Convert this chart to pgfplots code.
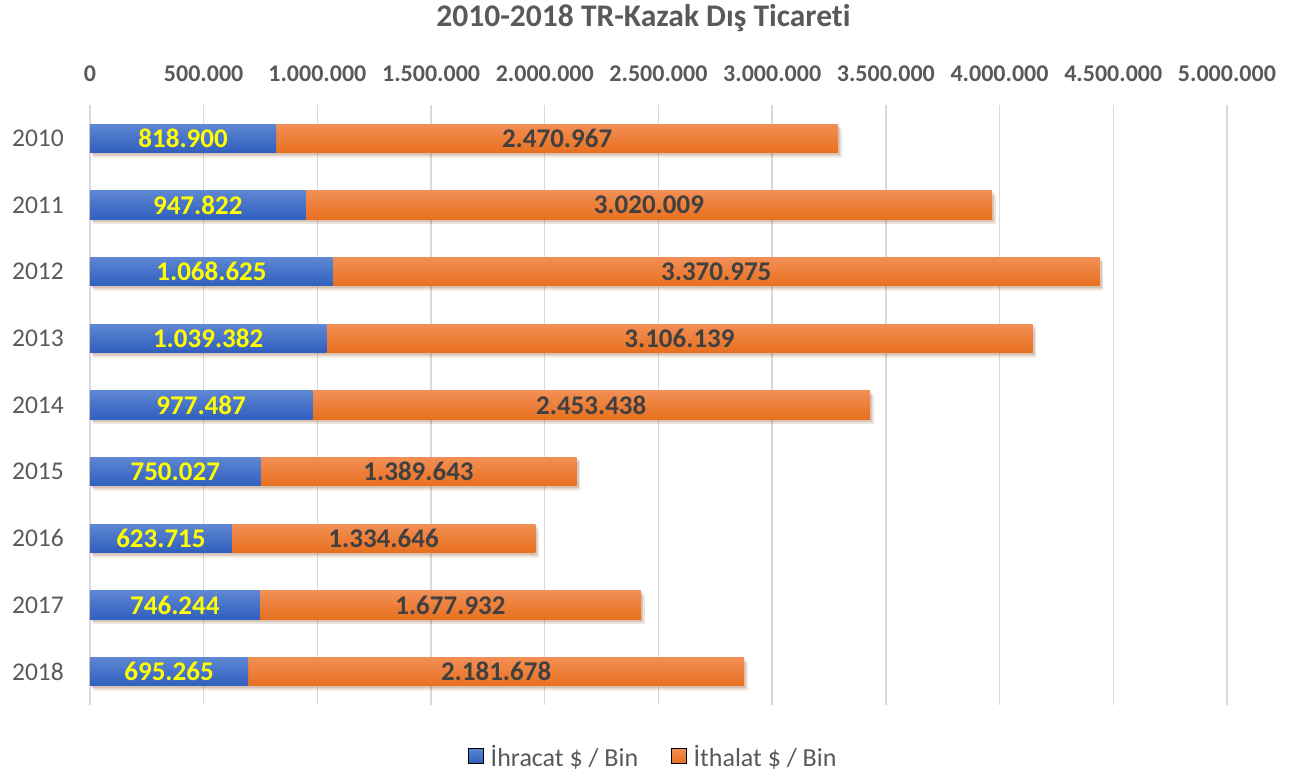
\documentclass[border=0pt]{standalone}
\usepackage{fontspec}
\setmainfont{Carlito}[Ligatures=NoCommon]
\usepackage{pgfplots}
\pgfplotsset{compat=1.18}
\usepackage{pgfplotstable}
\definecolor{txtgray}{HTML}{595959}
\definecolor{lbldark}{HTML}{404040}
\definecolor{gridgray}{HTML}{D9D9D9}
\definecolor{bltop}{HTML}{5E87D3}
\definecolor{blbot}{HTML}{2F5EBD}
\definecolor{ortop}{HTML}{F28F55}
\definecolor{orbot}{HTML}{E8701F}
\definecolor{lblyellow}{HTML}{FFFF00}
\pgfplotstableread{
y e i le li
8 818900 2470967 818.900 2.470.967
7 947822 3020009 947.822 3.020.009
6 1068625 3370975 1.068.625 3.370.975
5 1039382 3106139 1.039.382 3.106.139
4 977487 2453438 977.487 2.453.438
3 750027 1389643 750.027 1.389.643
2 623715 1334646 623.715 1.334.646
1 746244 1677932 746.244 1.677.932
0 695265 2181678 695.265 2.181.678
}\data
\begin{document}
\begin{tikzpicture}
\useasboundingbox (-90pt,-66pt) rectangle (1216pt,705pt);
\begin{axis}[
  at={(0pt,0pt)}, anchor=south west,
  scale only axis, width=1137pt, height=600pt,
  xmin=0, xmax=5000000, ymin=-0.5, ymax=8.5,
  scaled x ticks=false,
  clip=false,
  axis line style={draw=none},
  major tick length=0pt,
  xmajorgrids, ymajorgrids=false,
  grid style={draw=gridgray, line width=1.4pt},
  xtick={0,500000,1000000,1500000,2000000,2500000,3000000,3500000,4000000,4500000,5000000},
  xticklabels={0,500.000,1.000.000,1.500.000,2.000.000,2.500.000,3.000.000,3.500.000,4.000.000,4.500.000,5.000.000},
  xticklabel pos=right,
  xticklabel style={font=\fontsize{24}{28}\selectfont\bfseries, text=txtgray, inner sep=0pt, anchor=south, yshift=23pt},
  ytick={0,1,2,3,4,5,6,7,8},
  yticklabels={2018,2017,2016,2015,2014,2013,2012,2011,2010},
  yticklabel style={font=\fontsize{25.5}{28}\selectfont, text=txtgray, inner sep=0pt, anchor=east, xshift=-26pt},
  legend columns=2,
  legend style={at={(0.4947,-0.0867)}, anchor=center, draw=none, fill=none, inner sep=0pt,
    font=\fontsize{26}{30}\selectfont, text=txtgray,
    nodes={inner sep=0pt},
    /tikz/every odd column/.append style={column sep=7pt},
    /tikz/every even column/.append style={column sep=33pt}},
]
\pgfplotsinvokeforeach{0,...,8}{
\addplot[xbar, bar width=28.5pt, bar shift=0pt, draw=none, top color=ortop, bottom color=orbot,
  preaction={fill=black, fill opacity=0.07, transform canvas={xshift=3.5pt,yshift=-4.5pt}},
  preaction={fill=black, fill opacity=0.10, transform canvas={xshift=2pt,yshift=-2.5pt}},
  forget plot, restrict y to domain=#1:#1]
  table[x expr=\thisrow{e}+\thisrow{i}, y=y] {\data};
\addplot[xbar, bar width=28.5pt, bar shift=0pt, draw=none, top color=bltop, bottom color=blbot,
  forget plot, restrict y to domain=#1:#1]
  table[x=e, y=y] {\data};
}
\addplot[draw=none, mark=none, forget plot, nodes near coords, point meta=explicit symbolic,
  every node near coord/.style={anchor=center, inner sep=0pt, font=\fontsize{27}{30}\selectfont\bfseries, text=lblyellow}]
  table[x expr=\thisrow{e}/2, y=y, meta=le] {\data};
\addplot[draw=none, mark=none, forget plot, nodes near coords, point meta=explicit symbolic,
  every node near coord/.style={anchor=center, inner sep=0pt, font=\fontsize{27}{30}\selectfont\bfseries, text=lbldark}]
  table[x expr=\thisrow{e}+\thisrow{i}/2, y=y, meta=li] {\data};
\addlegendimage{legend image code/.code={\fill[top color=bltop, bottom color=blbot] (0pt,-6pt) rectangle (15pt,9pt);}}
\addlegendentry{İhracat \$ / Bin}
\addlegendimage{legend image code/.code={\fill[top color=ortop, bottom color=orbot] (0pt,-6pt) rectangle (15pt,9pt);}}
\addlegendentry{İthalat \$ / Bin}
\end{axis}
\node[anchor=base, font=\fontsize{31.5}{34}\selectfont\bfseries, text=txtgray] at (553.5pt,678pt) {2010-2018 TR-Kazak Dış Ticareti};
\end{tikzpicture}
\end{document}
